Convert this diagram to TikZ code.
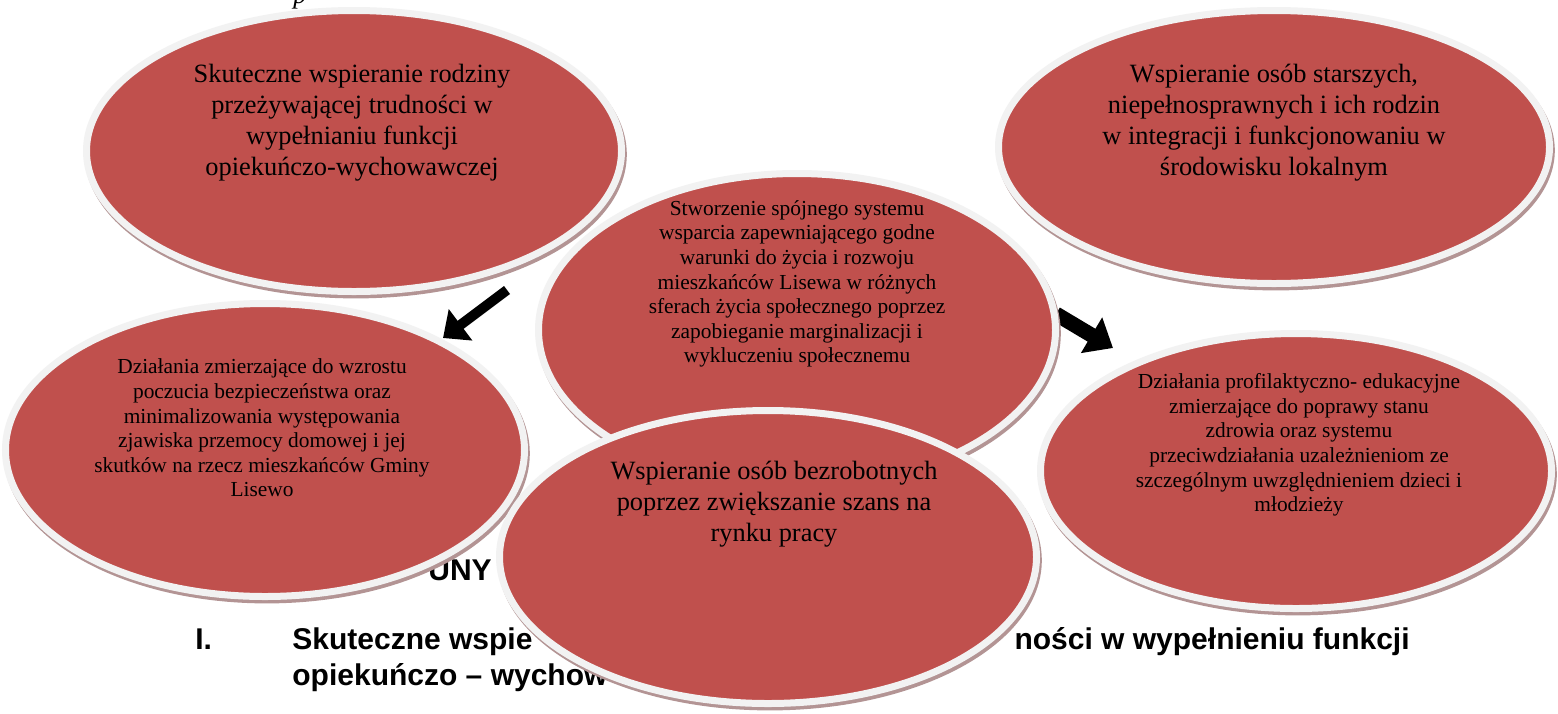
\documentclass[tikz,border=0pt]{standalone}
\usepackage{fontspec}
\setmainfont{Liberation Serif}
\newfontfamily\headfont{Liberation Sans}
\usetikzlibrary{shapes.geometric,shadows,arrows.meta}
\definecolor{celred}{HTML}{C0504D}
\definecolor{celrim}{HTML}{F2F2F2}
\definecolor{celshadow}{HTML}{B39494}
\tikzset{
  cel/.style={ellipse, draw=celrim, line width=3.5pt, fill=celred, inner sep=0pt,
    drop shadow={shadow xshift=0.9pt, shadow yshift=-1.7pt, fill=celshadow, draw=celshadow, line width=3.5pt, opacity=1}},
  bigtxt/.style={align=center, inner sep=0pt, font=\fontsize{13.2}{15.5}\selectfont},
  smalltxt/.style={align=center, inner sep=0pt, font=\fontsize{10.7}{12.3}\selectfont},
  headtxt/.style={inner sep=0pt, font=\headfont\bfseries\fontsize{15}{18}\selectfont},
  strzalka/.style={draw=black}
}

\begin{document}
\begin{tikzpicture}[x=0.5pt,y=-0.5pt]
\path[use as bounding box, fill=white] (0,0) rectangle (1558,713);

\node[anchor=base west, inner sep=0pt, font=\itshape\fontsize{13.2}{15.5}\selectfont] (ptop) at (293,3) {p};
\node[headtxt, anchor=base west] (unyh) at (428,580) {UNY};
\node[headtxt, anchor=base west] (num) at (195,649) {I.};
\node[headtxt, anchor=base west] (tyt1) at (292,649) {Skuteczne wspie};
\node[headtxt, anchor=base east] (tyt2) at (1410,649) {ności w wypełnieniu funkcji};
\node[headtxt, anchor=base west] (tyt3) at (292,685) {opiekuńczo – wychow};

\coordinate (lewyogon) at (507,290);
\coordinate (lewygrot) at (443,338);
\coordinate (prawyogon) at (1056,314);
\coordinate (prawygrot) at (1113,348);
\draw[strzalka, line width=5pt, -{Triangle[width=19pt,length=11pt]}] (lewyogon) -- (lewygrot);
\draw[strzalka, line width=7.5pt, -{Triangle[width=20pt,length=12.5pt]}] (prawyogon) -- (prawygrot);

\node[cel, minimum width=267.5pt, minimum height=140.5pt] (A) at (354,151) {};
\node[bigtxt] (Atxt) at (352,123) {Skuteczne wspieranie rodziny\\przeżywającej trudności w\\wypełnianiu funkcji\\opiekuńczo-wychowawczej};

\node[cel, minimum width=275.5pt, minimum height=136.5pt] (B) at (1274,147) {};
\node[bigtxt] (Btxt) at (1274,123) {Wspieranie osób starszych,\\niepełnosprawnych i ich rodzin\\w integracji i funkcjonowaniu w\\środowisku lokalnym};

\node[cel, minimum width=259.5pt, minimum height=146.5pt] (D) at (265,450) {};
\node[smalltxt] (Dtxt) at (262,428) {Działania zmierzające do wzrostu\\poczucia bezpieczeństwa oraz\\minimalizowania występowania\\zjawiska przemocy domowej i jej\\skutków na rzecz mieszkańców Gminy\\Lisewo};

\node[cel, minimum width=255.5pt, minimum height=137.5pt] (E) at (1296,471) {};
\node[smalltxt] (Etxt) at (1299,445) {Działania profilaktyczno- edukacyjne\\zmierzające do poprawy stanu\\zdrowia oraz systemu\\przeciwdziałania uzależnieniom ze\\szczególnym uwzględnieniem dzieci i\\młodzieży};

\node[cel, minimum width=258.5pt, minimum height=156.5pt] (C) at (797,330) {};
\node[smalltxt] (Ctxt) at (797,284) {Stworzenie spójnego systemu\\wsparcia zapewniającego godne\\warunki do życia i rozwoju\\mieszkańców Lisewa w różnych\\sferach życia społecznego poprzez\\zapobieganie marginalizacji i\\wykluczeniu społecznemu};

\node[cel, minimum width=268.5pt, minimum height=146.5pt] (F) at (768,557) {};
\node[bigtxt] (Ftxt) at (774,504) {Wspieranie osób bezrobotnych\\poprzez zwiększanie szans na\\rynku pracy};
\end{tikzpicture}
\end{document}
